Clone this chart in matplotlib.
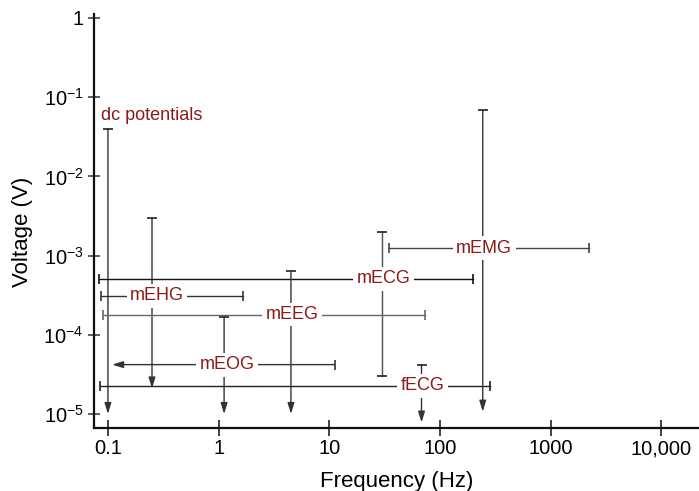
import matplotlib
matplotlib.use("Agg")
import matplotlib.pyplot as plt
from matplotlib.ticker import FixedLocator, NullLocator

plt.rcParams['font.family'] = ['Liberation Sans', 'DejaVu Sans']
plt.rcParams['mathtext.fontset'] = 'custom'
plt.rcParams['mathtext.rm'] = 'Liberation Sans'
plt.rcParams['mathtext.it'] = 'Liberation Sans:italic'

# ---- data ----
signals      = ['mEHG', 'mECG', 'mEEG', 'mEOG', 'fECG', 'mEMG']
# horizontal (frequency) ranges
freq_lo      = [0.086, 0.083, 0.090, 0.109, 0.085, 34.7]
freq_hi      = [1.67, 200.0, 73.0, 11.2, 283.0, 2230.0]
freq_level_v = [3.1e-4, 5.1e-4, 1.8e-4, 4.2e-5, 2.26e-5, 1.24e-3]
# vertical (voltage) ranges
volt_freq    = [0.25, 30.0, 4.5, 1.12, 68.0, 243.0]
volt_hi      = [3.0e-3, 2.0e-3, 6.3e-4, 1.66e-4, 4.2e-5, 0.068]
volt_lo      = [2.1e-5, 3.0e-5, 1.0e-5, 1.0e-5, 7.8e-6, 1.07e-5]
# label positions
label_freq   = [0.277, 30.7, 4.6, 1.2, 69.0, 250.0]
# open-ended (arrow) ends
volt_lo_open = [True, False, True, True, True, True]
freq_lo_open = [False, False, False, True, False, False]

dc_label = 'dc potentials'
dc_freq, dc_hi, dc_lo = 0.1, 0.040, 1.0e-5

xticks = [0.1, 1, 10, 100, 1000, 10000]
xticklabels = ['0.1', '1', '10', '100', '1000', '10,000']
yticks = [1e-5, 1e-4, 1e-3, 1e-2, 1e-1, 1]
yticklabels = [r'$\mathregular{10^{-5}}$', r'$\mathregular{10^{-4}}$',
               r'$\mathregular{10^{-3}}$', r'$\mathregular{10^{-2}}$',
               r'$\mathregular{10^{-1}}$', '1']

# ---- figure ----
fig = plt.figure(figsize=(6.99, 4.91), dpi=100)
ax = fig.add_axes([94/699, 1-428/491, 605/699, (428-14)/491])
ax.set_xscale('log')
ax.set_yscale('log')
ax.set_xlim(10**-1.126, 10**4.339)
ax.set_ylim(10**-5.177, 10**0.0505)

red = '#8b1a1a'
vcol = '#505050'
acol = '#333333'
hcols = ['#333333', '#111111', '#666666', '#333333', '#222222', '#444444']
lw = 1.0
cap_ms = 6.5

def arrow(x0, y0, x1, y1, col):
    ax.annotate('', xy=(x1, y1), xytext=(x0, y0),
                arrowprops=dict(arrowstyle='-|>,head_length=0.65,head_width=0.2',
                                color=col, lw=lw, shrinkA=0, shrinkB=0,
                                mutation_scale=10), zorder=2)

# dc potentials
arrow(dc_freq, dc_hi, dc_freq, dc_lo, acol)
ax.plot([dc_freq], [dc_hi], marker='_', ms=cap_ms, mew=1.2, color='#222222', zorder=3)
ax.text(0.0865, 0.058, dc_label, color=red, fontsize=13, ha='left', va='center')

for i, name in enumerate(signals):
    hc = hcols[i]
    # vertical range
    if volt_lo_open[i]:
        arrow(volt_freq[i], volt_hi[i], volt_freq[i], volt_lo[i], acol)
    else:
        ax.plot([volt_freq[i]] * 2, [volt_hi[i], volt_lo[i]], color=vcol, lw=lw, zorder=2)
        ax.plot([volt_freq[i]], [volt_lo[i]], marker='_', ms=cap_ms, mew=1.2,
                color='#222222', zorder=3)
    ax.plot([volt_freq[i]], [volt_hi[i]], marker='_', ms=cap_ms, mew=1.2,
            color='#222222', zorder=3)
    # horizontal range
    y = freq_level_v[i]
    if freq_lo_open[i]:
        arrow(freq_hi[i], y, freq_lo[i], y, hc)
    else:
        ax.plot([freq_lo[i], freq_hi[i]], [y, y], color=hc, lw=lw, zorder=2)
        ax.plot([freq_lo[i]], [y], marker='|', ms=cap_ms, mew=1.2, color=hc, zorder=3)
    ax.plot([freq_hi[i]], [y], marker='|', ms=cap_ms, mew=1.2, color=hc, zorder=3)
    ax.text(label_freq[i], y, name, color=red, fontsize=13, ha='center', va='center',
            zorder=6, bbox=dict(fc='white', ec='none', pad=2.5))

# axes styling
for s in ['top', 'right']:
    ax.spines[s].set_visible(False)
for s in ['left', 'bottom']:
    ax.spines[s].set_linewidth(1.6)
    ax.spines[s].set_color('#111111')

ax.xaxis.set_major_locator(FixedLocator(xticks))
ax.set_xticklabels(xticklabels)
ax.xaxis.set_minor_locator(NullLocator())
ax.yaxis.set_major_locator(FixedLocator(yticks))
ax.set_yticklabels(yticklabels)
ax.yaxis.set_minor_locator(NullLocator())

ax.tick_params(axis='x', direction='inout', length=12, width=1.2, color='#222222',
               labelsize=14.5, pad=2)
ax.tick_params(axis='y', direction='inout', length=9, width=1.2, color='#444444',
               labelsize=14.5, pad=3)

ax.set_xlabel('Frequency (Hz)', fontsize=16, labelpad=9)
ax.set_ylabel('Voltage (V)', fontsize=16)
ax.yaxis.set_label_coords((33 - 94) / 605, (428 - 231.5) / 414)

fig.savefig('out.png', dpi=100)
